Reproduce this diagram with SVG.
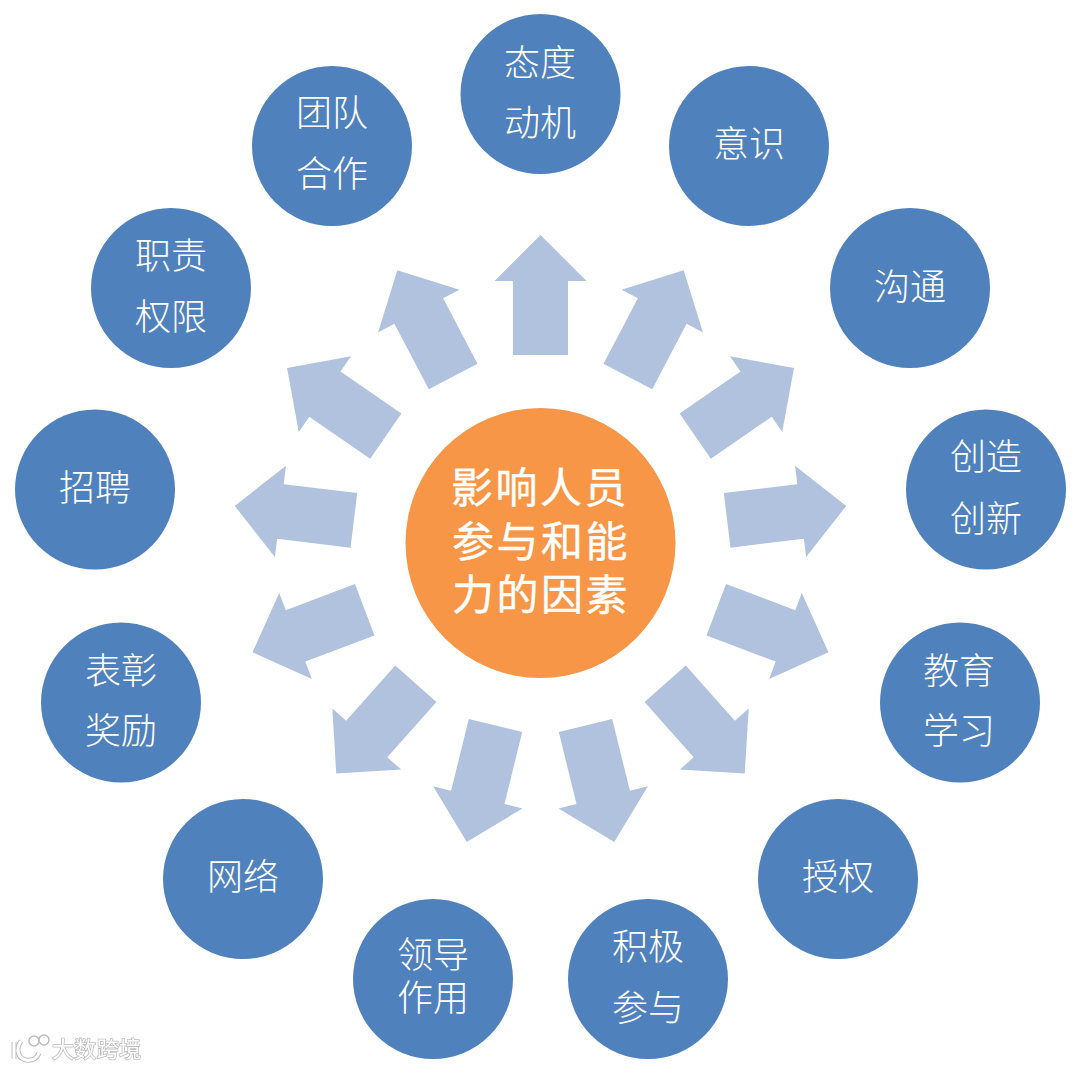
<svg xmlns="http://www.w3.org/2000/svg" width="1080" height="1069" viewBox="0 0 1080 1069">
<style>
.n{fill:#4f81bd}
.t{font-family:"Noto Sans CJK SC","Noto Sans",sans-serif;font-size:36px;font-weight:300;fill:#fff;text-anchor:middle}
.c{font-family:"Noto Sans CJK SC","Noto Sans",sans-serif;font-size:42px;font-weight:400;letter-spacing:2.5px;fill:#fff;text-anchor:middle;stroke:#fff;stroke-width:.4}
.a{fill:#b0c2de}
.w{font-family:"Noto Sans CJK SC","Noto Sans",sans-serif;font-size:22px;fill:#fff;stroke:#bdbdbd;stroke-width:1.6;paint-order:stroke}
</style>
<defs>
<path id="arrow" class="a" d="M540.5 235L586.5 281H568V355H513V281H494.5Z"/>
<filter id="sh" x="-10%" y="-20%" width="120%" height="140%"><feGaussianBlur stdDeviation="0.5"/></filter>
</defs>
<rect width="1080" height="1069" fill="#fff"/>
<g id="connectors">
<use href="#arrow"/>
<use href="#arrow" transform="rotate(27.69 540.5 543)"/>
<use href="#arrow" transform="rotate(55.38 540.5 543)"/>
<use href="#arrow" transform="rotate(83.08 540.5 543)"/>
<use href="#arrow" transform="rotate(110.77 540.5 543)"/>
<use href="#arrow" transform="rotate(138.46 540.5 543)"/>
<use href="#arrow" transform="rotate(166.15 540.5 543)"/>
<use href="#arrow" transform="rotate(193.85 540.5 543)"/>
<use href="#arrow" transform="rotate(221.54 540.5 543)"/>
<use href="#arrow" transform="rotate(249.23 540.5 543)"/>
<use href="#arrow" transform="rotate(276.92 540.5 543)"/>
<use href="#arrow" transform="rotate(304.62 540.5 543)"/>
<use href="#arrow" transform="rotate(332.31 540.5 543)"/>
</g>
<g id="center"><circle cx="540.5" cy="543" r="135" fill="#f79646"/>
<text class="c" x="540" y="503">影响人员</text><text class="c" x="541" y="557">参与和能</text><text class="c" x="541" y="610">力的因素</text></g>
<g id="n1"><circle class="n" cx="540.5" cy="94" r="80"/><text class="t" x="540" y="76">态度</text><text class="t" x="540" y="136">动机</text></g>
<g id="n2"><circle class="n" cx="749" cy="146" r="80"/><text class="t" x="749" y="157">意识</text></g>
<g id="n3"><circle class="n" cx="910" cy="288" r="80"/><text class="t" x="910" y="300">沟通</text></g>
<g id="n4"><circle class="n" cx="986" cy="489.5" r="80"/><text class="t" x="986" y="470">创造</text><text class="t" x="986" y="532">创新</text></g>
<g id="n5"><circle class="n" cx="960" cy="702.5" r="80"/><text class="t" x="959" y="684">教育</text><text class="t" x="959" y="744">学习</text></g>
<g id="n6"><circle class="n" cx="838" cy="879" r="80"/><text class="t" x="838" y="890">授权</text></g>
<g id="n7"><circle class="n" cx="648" cy="979" r="80"/><text class="t" x="648" y="960">积极</text><text class="t" x="648" y="1021">参与</text></g>
<g id="n8"><circle class="n" cx="433" cy="979" r="80"/><text class="t" x="433" y="968">领导</text><text class="t" x="433" y="1011">作用</text></g>
<g id="n9"><circle class="n" cx="243" cy="879" r="80"/><text class="t" x="243" y="890">网络</text></g>
<g id="n10"><circle class="n" cx="121" cy="702.5" r="80"/><text class="t" x="121" y="684">表彰</text><text class="t" x="121" y="744">奖励</text></g>
<g id="n11"><circle class="n" cx="95" cy="489.5" r="80"/><text class="t" x="95" y="501">招聘</text></g>
<g id="n12"><circle class="n" cx="171" cy="288" r="80"/><text class="t" x="171" y="269">职责</text><text class="t" x="171" y="330">权限</text></g>
<g id="n13"><circle class="n" cx="332" cy="146" r="80"/><text class="t" x="332" y="126">团队</text><text class="t" x="332" y="187">合作</text></g>
<g id="watermark">
<g fill="none" filter="url(#sh)">
<g stroke="#bdbdbd" stroke-width="5"><path d="M14 1042V1059"/><path d="M21 1041C16 1048 17 1058 26 1060C33 1061 37 1058 39 1053"/></g>
<g stroke="#fff" stroke-width="3"><path d="M14 1042V1059"/><path d="M21 1041C16 1048 17 1058 26 1060C33 1061 37 1058 39 1053"/></g>
<g stroke="#bdbdbd" stroke-width="1.6"><circle cx="34" cy="1041" r="5"/><circle cx="44" cy="1040" r="5"/></g>
</g>
<text class="w" x="52" y="1057" textLength="89" filter="url(#sh)">大数跨境</text>
</g>
</svg>
